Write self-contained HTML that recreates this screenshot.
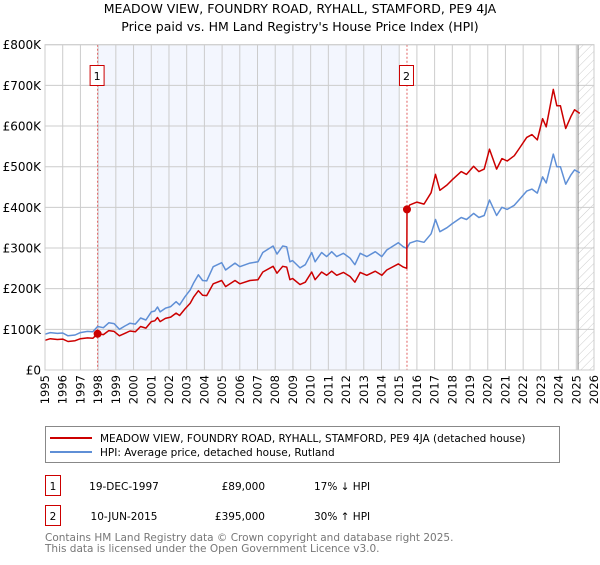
<!DOCTYPE html>
<html><head><meta charset="utf-8"><style>
body{margin:0;background:#fff;font-family:"Liberation Sans","DejaVu Sans",sans-serif;}
svg text{font-family:"DejaVu Sans","Liberation Sans",sans-serif;}
</style></head><body>
<svg id="chart" width="600" height="560" viewBox="0 0 600 560" xmlns="http://www.w3.org/2000/svg">
<defs><pattern id="hatch" width="6" height="6" patternUnits="userSpaceOnUse" patternTransform="rotate(45)"><line x1="0" y1="0" x2="0" y2="6" stroke="#ccc" stroke-width="1"/></pattern></defs>
<text x="300" y="13" text-anchor="middle" font-size="12.5" fill="#000">MEADOW VIEW, FOUNDRY ROAD, RYHALL, STAMFORD, PE9 4JA</text>
<text x="300" y="31" text-anchor="middle" font-size="12.5" fill="#000">Price paid vs. HM Land Registry's House Price Index (HPI)</text>
<g id="plot"></g>
<g>
<rect x="45.5" y="426.5" width="514" height="36" fill="#fff" stroke="#888"/>
<line x1="50" y1="438" x2="92" y2="438" stroke="#cc0000" stroke-width="2"/>
<text x="100" y="442" font-size="10.5">MEADOW VIEW, FOUNDRY ROAD, RYHALL, STAMFORD, PE9 4JA (detached house)</text>
<line x1="50" y1="452" x2="92" y2="452" stroke="#5f8fd6" stroke-width="2"/>
<text x="100" y="456" font-size="10.5">HPI: Average price, detached house, Rutland</text>
</g>
<g font-size="10.5">
<rect x="45.5" y="475.5" width="15" height="20" fill="#fff" stroke="#cc0000"/>
<text x="53" y="490" text-anchor="middle">1</text>
<text x="124" y="490" text-anchor="middle">19-DEC-1997</text>
<text x="265" y="490" text-anchor="end">£89,000</text>
<text x="314" y="490">17% ↓ HPI</text>
<rect x="45.5" y="505.5" width="15" height="20" fill="#fff" stroke="#cc0000"/>
<text x="53" y="520" text-anchor="middle">2</text>
<text x="124" y="520" text-anchor="middle">10-JUN-2015</text>
<text x="265" y="520" text-anchor="end">£395,000</text>
<text x="314" y="520">30% ↑ HPI</text>
</g>
<g font-size="10.5" fill="#777">
<text x="45" y="541">Contains HM Land Registry data © Crown copyright and database right 2025.</text>
<text x="45" y="552">This data is licensed under the Open Government Licence v3.0.</text>
</g>
</svg>
<script>
const yTicks=[0,100,200,300,400,500,600,700,800];
const yTickLabels=["£0","£100K","£200K","£300K","£400K","£500K","£600K","£700K","£800K"];
const xYears=[1995,1996,1997,1998,1999,2000,2001,2002,2003,2004,2005,2006,2007,2008,2009,2010,2011,2012,2013,2014,2015,2016,2017,2018,2019,2020,2021,2022,2023,2024,2025,2026];
const hpiDates=[1995.0,1995.3,1995.7,1996.0,1996.3,1996.7,1997.0,1997.4,1997.7,1997.97,1998.3,1998.6,1998.9,1999.2,1999.5,1999.8,2000.1,2000.4,2000.7,2001.0,2001.2,2001.35,2001.5,2001.8,2002.1,2002.4,2002.6,2002.9,2003.2,2003.4,2003.66,2003.9,2004.13,2004.5,2004.98,2005.2,2005.73,2006.0,2006.57,2007.03,2007.3,2007.88,2008.1,2008.42,2008.65,2008.83,2008.98,2009.4,2009.7,2010.06,2010.25,2010.62,2010.9,2011.19,2011.47,2011.85,2012.23,2012.5,2012.8,2013.17,2013.65,2014.02,2014.3,2014.95,2015.23,2015.43,2015.6,2016.0,2016.4,2016.8,2017.05,2017.3,2017.7,2018.0,2018.5,2018.8,2019.2,2019.5,2019.8,2020.1,2020.5,2020.8,2021.1,2021.5,2021.8,2022.2,2022.5,2022.8,2023.1,2023.3,2023.7,2023.9,2024.1,2024.4,2024.7,2024.9,2025.2];
const hpiValues=[88,92,90,91,84,86,92,95,94,107,104,116,114,100,108,115,113,128,123,143,145,155,143,152,156,168,160,180,197,215,234,220,219,254,264,246,263,254,263,266,289,305,285,305,303,266,269,251,259,289,266,289,279,291,279,287,275,259,287,279,291,279,295,313,303,299,312,318,314,335,370,340,350,360,375,370,385,375,380,418,380,400,395,405,420,440,445,435,475,460,531,500,500,457,480,492,485];
const priceDates=[1995.0,1995.3,1995.7,1996.0,1996.3,1996.7,1997.0,1997.4,1997.7,1997.97,1998.3,1998.6,1998.9,1999.2,1999.5,1999.8,2000.1,2000.4,2000.7,2001.0,2001.2,2001.35,2001.5,2001.8,2002.1,2002.4,2002.6,2002.9,2003.2,2003.4,2003.66,2003.9,2004.13,2004.5,2004.98,2005.2,2005.73,2006.0,2006.57,2007.03,2007.3,2007.88,2008.1,2008.42,2008.65,2008.83,2008.98,2009.4,2009.7,2010.06,2010.25,2010.62,2010.9,2011.19,2011.47,2011.85,2012.23,2012.5,2012.8,2013.17,2013.65,2014.02,2014.3,2014.95,2015.23,2015.43,2015.44,2015.6,2016.0,2016.4,2016.8,2017.05,2017.3,2017.7,2018.0,2018.5,2018.8,2019.2,2019.5,2019.8,2020.1,2020.5,2020.8,2021.1,2021.5,2021.8,2022.2,2022.5,2022.8,2023.1,2023.3,2023.7,2023.9,2024.1,2024.4,2024.7,2024.9,2025.2];
const priceValues=[73,77,75,76,70,72,77,79,78,89,87,97,95,84,90,96,94,107,103,119,121,129,119,127,130,140,134,150,164,180,195,184,183,212,220,205,220,212,220,222,241,255,238,255,253,222,225,210,216,241,222,241,233,243,233,240,230,216,240,233,243,233,246,261,253,250,395,406,413,408,436,481,442,455,468,488,481,501,488,494,543,494,520,514,527,546,572,579,566,618,598,690,650,650,594,624,640,631];
const saleDates=[1997.97,2015.44];
const saleValues=[89,395];
const saleLabels=["1","2"];
const shadeRange=[1997.97,2015.0];
const forecastStart=2025.1;

const L=45,R=594,T=44.7,B=370;
const xs=y=>L+(y-1995)/(2026-1995)*(R-L);
const ys=v=>B-v/800*(B-T);
const NS="http://www.w3.org/2000/svg";
const plot=document.getElementById('plot');
function mk(tag,attrs,parent){const e=document.createElementNS(NS,tag);for(const k in attrs)e.setAttribute(k,attrs[k]);(parent||plot).appendChild(e);return e;}
let e;
e=mk('rect',{x:xs(shadeRange[0]),y:T,width:xs(shadeRange[1])-xs(shadeRange[0]),height:B-T,fill:'#f3f6fe'});


e=mk('rect',{x:xs(forecastStart),y:T,width:R-xs(forecastStart),height:B-T,fill:'url(#hatch)'});


xYears.forEach(yr=>{
 e=mk('line',{x1:xs(yr),x2:xs(yr),y1:T,y2:B,stroke:'#ccc','stroke-width':1});
 
 
 const t=mk('text',{x:0,y:0,'font-size':11.5,'text-anchor':'end',transform:`translate(${xs(yr)+4},${B+5}) rotate(-90)`});
 t.textContent=yr;
 
 
});
yTicks.forEach((v,i)=>{
 e=mk('line',{x1:L,x2:R,y1:ys(v),y2:ys(v),stroke:'#ccc','stroke-width':1});
 
 
 const t=mk('text',{x:L-4,y:ys(v)+4.5,'font-size':12,'text-anchor':'end'});
 t.textContent=yTickLabels[i];
 
 
});
e=mk('line',{x1:xs(forecastStart),x2:xs(forecastStart),y1:T,y2:B,stroke:'#888','stroke-width':1});


saleDates.forEach((d,i)=>{
 e=mk('line',{x1:xs(d),x2:xs(d),y1:T,y2:B,stroke:'#e06060','stroke-width':1,'stroke-dasharray':'2,2'});
 
 
});
const pathOf=(ds,vs)=>ds.map((d,i)=>(i?'L':'M')+xs(d).toFixed(1)+','+ys(vs[i]).toFixed(1)).join('');
e=mk('path',{d:pathOf(hpiDates,hpiValues),fill:'none',stroke:'#5f8fd6','stroke-width':1.5,'stroke-linejoin':'round'});


e=mk('path',{d:pathOf(priceDates,priceValues),fill:'none',stroke:'#cc0000','stroke-width':1.5,'stroke-linejoin':'round'});


saleDates.forEach((d,i)=>{
 e=mk('circle',{cx:xs(d),cy:ys(saleValues[i]),r:4,fill:'#cc0000'});
 
 
 e=mk('rect',{x:xs(d)-7.5,y:65.5,width:14,height:20,fill:'#fff',stroke:'#cc0000'});
 
 
 const t=mk('text',{x:xs(d)-0.5,y:80,'font-size':11,'text-anchor':'middle'});
 t.textContent=saleLabels[i];
 
 
});
e=mk('rect',{x:L,y:T,width:R-L,height:B-T,fill:'none',stroke:'#ccc'});


</script>
</body></html>
